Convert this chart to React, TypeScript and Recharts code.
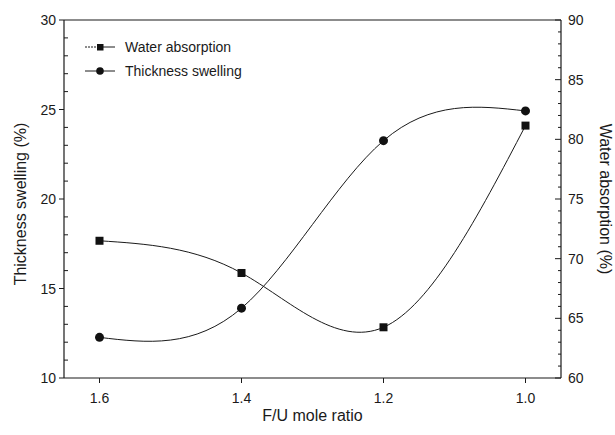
import React from "react";
import {
  LineChart,
  Line,
  XAxis,
  YAxis,
  ReferenceLine,
  Legend,
  Label,
} from "recharts";

const ratios = [1.6, 1.4, 1.2, 1.0];
const waterAbsorption = [71.5, 68.8, 64.25, 81.15];
const thicknessSwelling = [12.27, 13.9, 23.26, 24.92];

const xTicks = [1.0, 1.2, 1.4, 1.6];
const leftTicks = Array.from({ length: 21 }, (_, i) => 10 + i);
const rightTicks = Array.from({ length: 31 }, (_, i) => 60 + i);

const data = ratios.map((r, i) => ({
  ratio: r,
  water: waterAbsorption[i],
  thickness: thicknessSwelling[i],
}));

const FONT = '"Liberation Sans", Arial, Helvetica, sans-serif';
const INK = "#1a1a1a";

const LeftTick = (props: any) => {
  const { x, y, payload } = props;
  const v = payload.value;
  const major = v % 5 === 0;
  return (
    <g>
      <line x1={major ? x - 5 : x} x2={major ? x : x + 4} y1={y} y2={y} stroke={INK} strokeWidth={1} />
      {major && (
        <text x={x - 8} y={y + 5} textAnchor="end" fontSize={14} fill={INK} fontFamily={FONT}>
          {v}
        </text>
      )}
    </g>
  );
};

const RightTick = (props: any) => {
  const { x, y, payload } = props;
  const v = payload.value;
  const major = v % 5 === 0;
  return (
    <g>
      <line x1={x} x2={major ? x - 6 : x - 3} y1={y} y2={y} stroke={INK} strokeWidth={1} />
      {major && (
        <text x={x + 7} y={y + 5} textAnchor="start" fontSize={14} fill={INK} fontFamily={FONT}>
          {v}
        </text>
      )}
    </g>
  );
};

const BottomTick = (props: any) => {
  const { x, y, payload } = props;
  return (
    <g>
      <line x1={x} x2={x} y1={y} y2={y + 5} stroke={INK} strokeWidth={1} />
      <text x={x} y={y + 25} textAnchor="middle" fontSize={14} fill={INK} fontFamily={FONT}>
        {Number(payload.value).toFixed(1)}
      </text>
    </g>
  );
};

const SquareDot = (props: any) => {
  const { cx, cy, index } = props;
  return <rect key={`sq-${index}`} x={cx - 4} y={cy - 4} width={8} height={8} fill="#111" />;
};

const LegendContent = () => (
  <div style={{ fontFamily: FONT, fontSize: 14, color: INK, lineHeight: "24px" }}>
    <div style={{ display: "flex", alignItems: "center", height: 24 }}>
      <svg width={40} height={12} style={{ display: "block" }}>
        <line x1={0} x2={12} y1={6} y2={6} stroke={INK} strokeWidth={1} strokeDasharray="2 1" />
        <line x1={12} x2={30} y1={6} y2={6} stroke={INK} strokeWidth={1} />
        <rect x={12} y={3} width={6.5} height={6.5} fill="#111" />
      </svg>
      <span>Water absorption</span>
    </div>
    <div style={{ display: "flex", alignItems: "center", height: 24 }}>
      <svg width={40} height={12} style={{ display: "block" }}>
        <line x1={0} x2={30} y1={6} y2={6} stroke={INK} strokeWidth={1} />
        <circle cx={15} cy={6} r={3.8} fill="#111" />
      </svg>
      <span>Thickness swelling</span>
    </div>
  </div>
);

export default function App() {
  return (
    <div style={{ position: "absolute", left: 0, top: 0, fontFamily: FONT }}>
      <LineChart
        width={615}
        height={435}
        data={data}
        margin={{ top: 20, right: 0, bottom: 0, left: 0 }}
      >
        <XAxis
          dataKey="ratio"
          type="number"
          domain={[0.95, 1.65]}
          reversed
          ticks={xTicks}
          interval={0}
          height={57}
          tickSize={0}
          tickMargin={0}
          tickLine={false}
          tick={<BottomTick />}
          axisLine={{ stroke: INK, strokeWidth: 1.2 }}
          allowDataOverflow
        >
          <Label
            content={(p: any) => {
              const vb = p.viewBox;
              return (
                <text
                  x={vb.x + vb.width / 2}
                  y={vb.y + 43}
                  textAnchor="middle"
                  fontSize={16}
                  fill={INK}
                  fontFamily={FONT}
                >
                  F/U mole ratio
                </text>
              );
            }}
          />
        </XAxis>
        <YAxis
          yAxisId="left"
          orientation="left"
          domain={[10, 30]}
          ticks={leftTicks}
          interval={0}
          width={64}
          tickSize={0}
          tickMargin={0}
          tickLine={false}
          tick={<LeftTick />}
          axisLine={{ stroke: INK, strokeWidth: 1.2 }}
          allowDataOverflow
        >
          <Label
            content={(p: any) => {
              const vb = p.viewBox;
              const cx = 20;
              const cy = vb.y + vb.height / 2 + 5;
              return (
                <text
                  x={cx}
                  y={cy}
                  transform={`rotate(-90 ${cx} ${cy})`}
                  textAnchor="middle"
                  dominantBaseline="central"
                  fontSize={16}
                  fill={INK}
                  fontFamily={FONT}
                >
                  Thickness swelling (%)
                </text>
              );
            }}
          />
        </YAxis>
        <YAxis
          yAxisId="right"
          orientation="right"
          domain={[60, 90]}
          ticks={rightTicks}
          interval={0}
          width={54}
          tickSize={0}
          tickMargin={0}
          tickLine={false}
          tick={<RightTick />}
          axisLine={{ stroke: INK, strokeWidth: 1.2 }}
          allowDataOverflow
        >
          <Label
            content={(p: any) => {
              const vb = p.viewBox;
              const cx = 605;
              const cy = vb.y + vb.height / 2;
              return (
                <text
                  x={cx}
                  y={cy}
                  transform={`rotate(90 ${cx} ${cy})`}
                  textAnchor="middle"
                  dominantBaseline="central"
                  fontSize={16}
                  fill={INK}
                  fontFamily={FONT}
                >
                  Water absorption (%)
                </text>
              );
            }}
          />
        </YAxis>
        <ReferenceLine yAxisId="left" y={30} stroke={INK} strokeWidth={1.2} />
        <Legend
          layout="horizontal"
          verticalAlign="middle"
          align="center"
          content={<LegendContent />}
          wrapperStyle={{ position: "absolute", left: 85, top: 35, width: "auto", height: "auto" }}
        />
        <Line
          yAxisId="right"
          dataKey="water"
          type="natural"
          stroke={INK}
          strokeWidth={1}
          dot={<SquareDot />}
          activeDot={false}
          isAnimationActive={false}
        />
        <Line
          yAxisId="left"
          dataKey="thickness"
          type="natural"
          stroke={INK}
          strokeWidth={1}
          dot={{ r: 4.5, fill: "#111", stroke: "#111", strokeWidth: 0 }}
          activeDot={false}
          isAnimationActive={false}
        />
      </LineChart>
    </div>
  );
}
